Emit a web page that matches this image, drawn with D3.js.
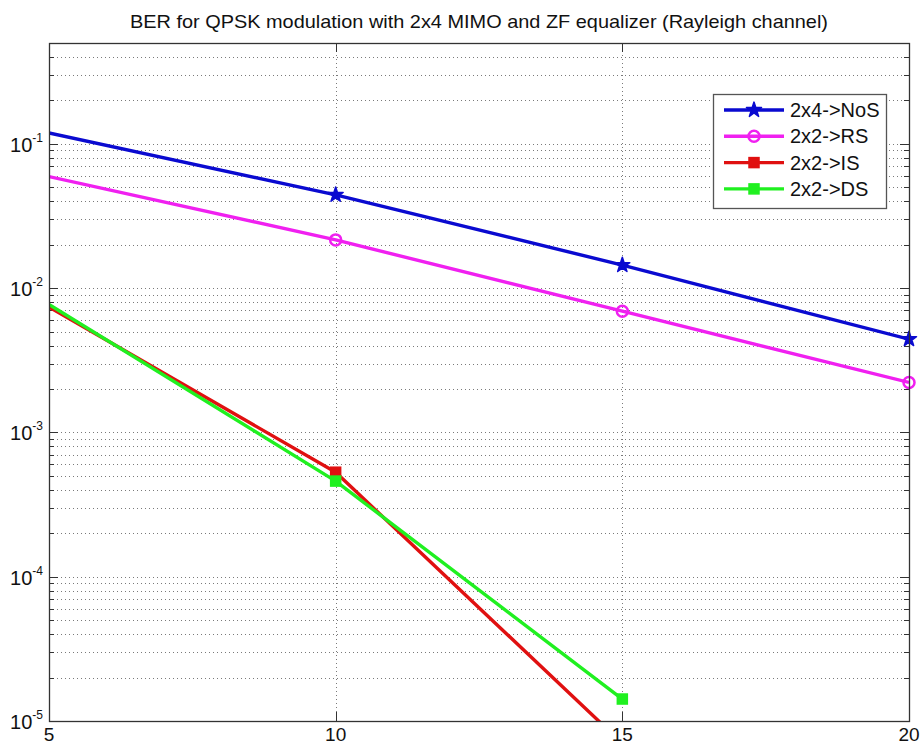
<!DOCTYPE html>
<html>
<head>
<meta charset="utf-8">
<script src="https://cdn.jsdelivr.net/npm/d3@7"></script>
<style>
  html, body { margin: 0; padding: 0; background: #fff; }
  svg { display: block; font-family: "Liberation Sans", Arial, sans-serif; }
</style>
</head>
<body>
<svg id="chart" width="922" height="746"></svg>
<script>
// SNR points (dB) and simulated bit error rates
const snr = [5, 10, 15, 20];
const snrDiag = [5, 10, 15];
const berNoS = [0.119, 0.0443, 0.01445, 0.00443];
const berRS = [0.0593, 0.0216, 0.00692, 0.00222];
const berIS = [0.0074, 0.00053, 0.000007];
const berDS = [0.0077, 0.00046, 0.0000142];
const seriesNames = ["2x4->NoS", "2x2->RS", "2x2->IS", "2x2->DS"];
const xTicks = [5, 10, 15, 20];
const yMajorTicks = [1e-5, 1e-4, 1e-3, 1e-2, 1e-1];
const titleText = "BER for QPSK modulation with 2x4 MIMO and ZF equalizer (Rayleigh channel)";

const series = [
  { name: seriesNames[0], x: snr, y: berNoS, color: "#0a0ad0", marker: "star" },
  { name: seriesNames[1], x: snr, y: berRS, color: "#f020f0", marker: "circle" },
  { name: seriesNames[2], x: snrDiag, y: berIS, color: "#e01010", marker: "square" },
  { name: seriesNames[3], x: snrDiag, y: berDS, color: "#20f020", marker: "square" }
];

const svg = d3.select("#chart");
const plotL = 49, plotR = 909, plotT = 43, plotB = 721;

const x = d3.scaleLinear().domain([5, 20]).range([plotL, plotR]);
const y = d3.scaleLog().domain([1e-5, 0.5]).range([plotB, plotT]);

// minor decade values inside the y range
const yMinor = [];
for (let e = -5; e <= -1; e++) {
  for (let m = 2; m <= 9; m++) {
    const v = m * Math.pow(10, e);
    if (v <= 0.5 + 1e-12) yMinor.push(v);
  }
}

// grid
const grid = svg.append("g").attr("stroke", "#7a7a7a").attr("stroke-width", 1)
  .attr("stroke-dasharray", "1,3").attr("fill", "none");
[...yMajorTicks.slice(1), ...yMinor].forEach(v => {
  grid.append("line").attr("x1", plotL).attr("x2", plotR)
    .attr("y1", Math.round(y(v)) + 0.5).attr("y2", Math.round(y(v)) + 0.5);
});
[10, 15].forEach(v => {
  grid.append("line").attr("y1", plotT).attr("y2", plotB)
    .attr("x1", Math.round(x(v)) + 0.5).attr("x2", Math.round(x(v)) + 0.5);
});

// tick marks (inward, on all four sides)
const ticks = svg.append("g").attr("stroke", "#333").attr("stroke-width", 1);
yMajorTicks.forEach(v => {
  const yy = Math.round(y(v)) + 0.5;
  ticks.append("line").attr("x1", plotL).attr("x2", plotL + 9).attr("y1", yy).attr("y2", yy);
  ticks.append("line").attr("x1", plotR).attr("x2", plotR - 9).attr("y1", yy).attr("y2", yy);
});
yMinor.forEach(v => {
  const yy = Math.round(y(v)) + 0.5;
  ticks.append("line").attr("x1", plotL).attr("x2", plotL + 5).attr("y1", yy).attr("y2", yy);
  ticks.append("line").attr("x1", plotR).attr("x2", plotR - 5).attr("y1", yy).attr("y2", yy);
});
[10, 15].forEach(v => {
  const xx = Math.round(x(v)) + 0.5;
  ticks.append("line").attr("x1", xx).attr("x2", xx).attr("y1", plotB).attr("y2", plotB - 9);
  ticks.append("line").attr("x1", xx).attr("x2", xx).attr("y1", plotT).attr("y2", plotT + 9);
});

// data lines, clipped to the axes box
svg.append("clipPath").attr("id", "plotClip").append("rect")
  .attr("x", plotL).attr("y", plotT).attr("width", plotR - plotL).attr("height", plotB - plotT);

const plot = svg.append("g").attr("clip-path", "url(#plotClip)");
const line = d3.line().x(d => x(d[0])).y(d => y(d[1]));

function drawMarker(g, kind, color, cx, cy) {
  if (kind === "star") {
    g.append("path").attr("d", d3.symbol(d3.symbolStar, 70)())
      .attr("transform", `translate(${cx},${cy})`).attr("fill", color)
      .attr("stroke", color).attr("stroke-width", 1.5).attr("stroke-linejoin", "round");
  } else if (kind === "circle") {
    g.append("circle").attr("cx", cx).attr("cy", cy).attr("r", 5.5)
      .attr("fill", "none").attr("stroke", color).attr("stroke-width", 2.5);
  } else {
    g.append("rect").attr("x", cx - 5).attr("y", cy - 5).attr("width", 10).attr("height", 10)
      .attr("fill", color).attr("stroke", color).attr("stroke-width", 1.5);
  }
}

series.forEach(s => {
  const pts = s.x.map((v, i) => [v, s.y[i]]);
  plot.append("path").datum(pts).attr("d", line)
    .attr("fill", "none").attr("stroke", s.color).attr("stroke-width", 3.4)
    .attr("stroke-linejoin", "round");
});
// markers on the samples after the first one (which sits on the left axis edge)
const markers = svg.append("g");
series.forEach(s => {
  s.x.forEach((v, i) => {
    if (i === 0) return;
    const cy = y(s.y[i]);
    if (cy > plotB) return;
    drawMarker(markers, s.marker, s.color, x(v), cy);
  });
});

// axes box
svg.append("rect").attr("x", plotL + 0.5).attr("y", plotT + 0.5)
  .attr("width", plotR - plotL).attr("height", plotB - plotT)
  .attr("fill", "none").attr("stroke", "#333").attr("stroke-width", 1.3);

// x tick labels
svg.append("g").selectAll("text").data(xTicks).join("text")
  .attr("x", d => x(d)).attr("y", plotB + 20)
  .attr("text-anchor", "middle").attr("font-size", 19).attr("fill", "#111")
  .text(d => d);

// y tick labels as 10 with a superscript exponent
const yl = svg.append("g");
yMajorTicks.forEach(v => {
  const exp = Math.round(Math.log10(v));
  const t = yl.append("text").attr("x", 43).attr("y", y(v) + 8)
    .attr("text-anchor", "end").attr("font-size", 20).attr("fill", "#111");
  t.append("tspan").text("10");
  t.append("tspan").attr("font-size", 12).attr("dy", -10).text(String(exp));
});

// title
svg.append("text").attr("x", (plotL + plotR) / 2).attr("y", 28)
  .attr("text-anchor", "middle").attr("font-size", 19).attr("fill", "#111")
  .attr("textLength", 698).attr("lengthAdjust", "spacingAndGlyphs")
  .text(titleText);

// legend
const lg = svg.append("g");
lg.append("rect").attr("x", 713.5).attr("y", 94.5).attr("width", 173).attr("height", 114)
  .attr("fill", "#fff").attr("stroke", "#555").attr("stroke-width", 1.3);
series.forEach((s, i) => {
  const cy = 110 + i * 26.3;
  lg.append("line").attr("x1", 724).attr("x2", 784).attr("y1", cy).attr("y2", cy)
    .attr("stroke", s.color).attr("stroke-width", 3.4);
  drawMarker(lg, s.marker, s.color, 754, cy);
  lg.append("text").attr("x", 790).attr("y", cy + 7).attr("font-size", 20)
    .attr("fill", "#111").text(s.name);
});
</script>
</body>
</html>
